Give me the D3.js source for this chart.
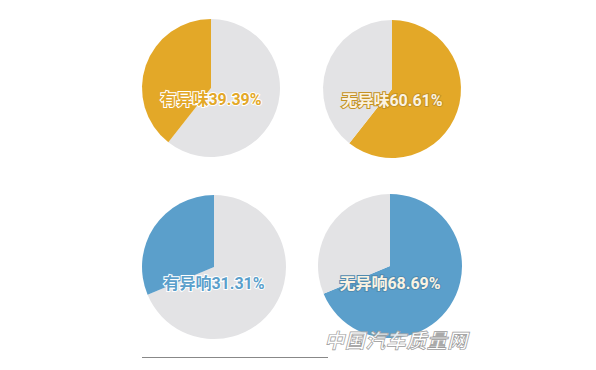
<!DOCTYPE html>
<html>
<head>
<meta charset="utf-8">
<script src="https://cdn.jsdelivr.net/npm/d3@7"></script>
<style>
  body { margin: 0; background: #fff; }
  svg { display: block; }
</style>
</head>
<body>
<svg id="chart" width="596" height="370"></svg>
<script>
// share of answers, clockwise from 12 o'clock: [无, 有]
var smellValues = [60.61, 39.39];
var noiseValues = [68.69, 31.31];
var smellLabels = ['无异味', '有异味'];
var noiseLabels = ['无异响', '有异响'];

var orange = '#E3A828';
var blue = '#5B9FCB';
var grey = '#E3E3E5';

// one entry per pie: which data, which slice is highlighted, where it sits
var pies = [
  { values: smellValues, labels: smellLabels, hi: 1, color: orange, cx: 211, cy: 88, r: 69, ty: 105 },
  { values: smellValues, labels: smellLabels, hi: 0, color: orange, cx: 392, cy: 89, r: 69, ty: 106 },
  { values: noiseValues, labels: noiseLabels, hi: 1, color: blue, cx: 214, cy: 267, r: 72, ty: 289 },
  { values: noiseValues, labels: noiseLabels, hi: 0, color: blue, cx: 390, cy: 266, r: 72, ty: 289 }
];

var svg = d3.select('#chart');

var pie = d3.pie().sort(null);

pies.forEach(function (p, i) {
  var arc = d3.arc().innerRadius(0).outerRadius(p.r);
  var g = svg.append('g')
    .attr('class', 'pie-' + i)
    .attr('transform', 'translate(' + p.cx + ',' + p.cy + ')');

  g.selectAll('path')
    .data(pie(p.values))
    .enter()
    .append('path')
    .attr('d', arc)
    .attr('fill', function (d, j) { return j == p.hi ? p.color : grey; });

  var onColor = p.hi == 0; // label sits on the coloured slice
  g.append('text')
    .attr('x', 0)
    .attr('y', p.ty - p.cy)
    .attr('text-anchor', 'middle')
    .style('font-family', "Roboto, 'Noto Sans CJK SC', sans-serif")
    .style('font-weight', 'bold')
    .style('font-size', '16px')
    .style('paint-order', 'stroke')
    .attr('stroke', onColor ? d3.color(p.color).darker(0.4) : '#fff')
    .attr('stroke-width', 2)
    .attr('fill', onColor ? '#FBF3E2' : p.color)
    .text(p.labels[p.hi] + p.values[p.hi].toFixed(2) + '%');
});

// rule at the bottom
svg.append('line')
  .attr('x1', 142).attr('x2', 328)
  .attr('y1', 357.5).attr('y2', 357.5)
  .attr('stroke', '#888')
  .attr('stroke-width', 1);

// watermark, outlined letters
svg.append('text')
  .attr('x', 396)
  .attr('y', 348)
  .attr('text-anchor', 'middle')
  .style('font-family', "'Noto Sans CJK SC', sans-serif")
  .style('font-size', '20px')
  .style('font-weight', 'bold')
  .style('font-style', 'italic')
  .style('letter-spacing', '0.5px')
  .attr('fill', 'rgba(255,255,255,0.85)')
  .attr('stroke', '#9a9a9a')
  .attr('stroke-width', 0.7)
  .text('中国汽车质量网');
</script>
</body>
</html>
